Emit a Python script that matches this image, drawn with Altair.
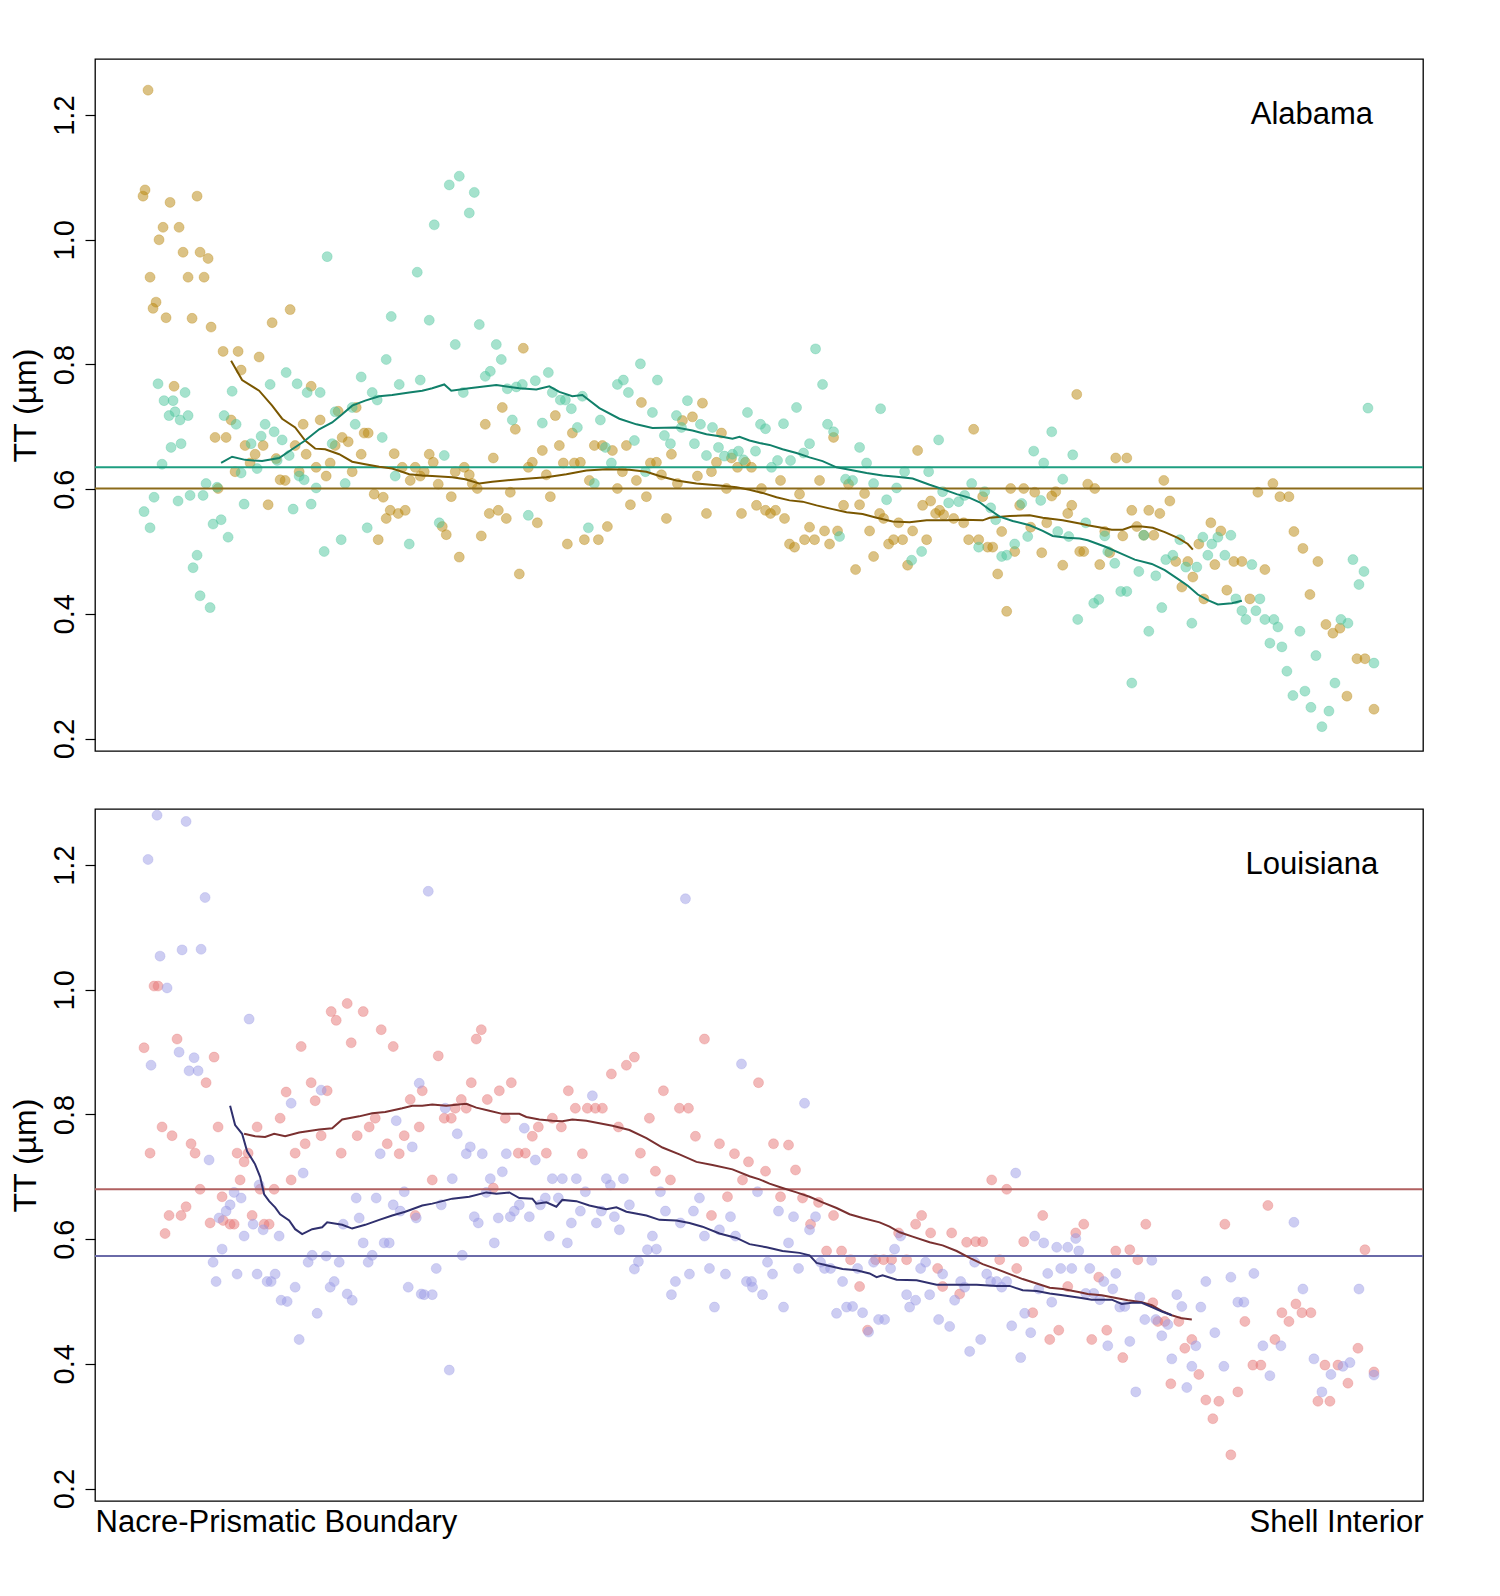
import altair as alt
import pandas as pd

# ---------------- data (position along transect, TT in µm) ----------------
AL_TAN = [(56,1.24),(53,1.08),(51,1.07),(78,1.06),(105,1.07),(71,1.02),(87,1.02),(67,1.00),(91,0.98),(108,0.98),
(116,0.97),(58,0.94),(96,0.94),(112,0.94),(64,0.90),(61,0.89),(74,0.875),(100,0.874),(119,0.86),(180,0.867),
(198,0.888),(131,0.821),(146,0.821),(167,0.812),(149,0.791),(82,0.765),(219,0.765),(139,0.711),(211,0.704),(228,0.711),
(123,0.683),(134,0.683),(153,0.670),(171,0.670),(203,0.670),(246,0.725),(264,0.731),(243,0.670),(250,0.683),(256,0.676),
(272,0.690),(276,0.690),(269,0.656),(302,0.657),(163,0.656),(158,0.642),(184,0.649),(214,0.656),(238,0.642),(260,0.628),
(310,0.635),(323,0.635),(143,0.628),(207,0.628),(224,0.635),(234,0.621),(188,0.615),(193,0.614),(318,0.614),(328,0.621),
(126,0.601),(176,0.575),(282,0.592),(291,0.587),(298,0.566),(306,0.561),(313,0.566),(294,0.553),(286,0.519),
(431,0.826),(410,0.731),(393,0.704),(423,0.696),(463,0.718),(549,0.739),(610,0.738),(600,0.716),(590,0.710),(629,0.690),
(480,0.690),(337,0.656),(341,0.643),(401,0.650),(450,0.662),(467,0.670),(502,0.670),(510,0.670),(520,0.662),(534,0.670),
(579,0.656),(440,0.643),(471,0.642),(482,0.642),(488,0.643),(558,0.642),(564,0.643),(624,0.643),(639,0.650),(645,0.635),
(653,0.643),(332,0.628),(363,0.628),(372,0.635),(436,0.635),(377,0.623),(454,0.623),(530,0.628),(619,0.628),(346,0.608),
(380,0.609),(385,0.601),(497,0.614),(544,0.614),(605,0.621),(569,0.623),(585,0.609),(418,0.595),(525,0.601),(634,0.601),
(359,0.588),(458,0.588),(554,0.588),(538,0.575),(397,0.561),(406,0.566),(414,0.553),(445,0.546),(574,0.553),(614,0.561),
(649,0.561),(350,0.540),(354,0.527),(389,0.525),(515,0.540),(492,0.519),(506,0.519),(475,0.512),(367,0.491),(427,0.464),
(984,0.752),(881,0.696),(825,0.662),(741,0.683),(659,0.635),(688,0.614),(727,0.614),(756,0.608),(669,0.601),(707,0.592),
(772,0.593),(918,0.601),(931,0.601),(942,0.595),(963,0.596),(959,0.589),(890,0.588),(664,0.574),(751,0.574),(767,0.575),
(830,0.574),(838,0.581),(979,0.574),(927,0.574),(673,0.566),(678,0.561),(683,0.566),(692,0.553),(787,0.561),(791,0.553),
(843,0.561),(847,0.566),(851,0.559),(861,0.553),(871,0.546),(975,0.561),(806,0.546),(954,0.546),(938,0.539),(717,0.539),
(732,0.533),(745,0.533),(777,0.533),(820,0.533),(909,0.532),(697,0.512),(702,0.507),(712,0.519),(722,0.519),(737,0.512),
(796,0.512),(801,0.519),(810,0.519),(834,0.519),(876,0.519),(886,0.519),(895,0.507),(900,0.507),(922,0.500),(949,0.498),
(781,0.492),(815,0.478),(763,0.471),(970,0.478),(905,0.464),(914,0.404),(987,0.500),
(1023,0.650),(1034,0.650),(1071,0.614),(995,0.608),(1002,0.601),(1165,0.595),(1180,0.609),(1187,0.588),(1196,0.588),(1077,0.581),
(1039,0.566),(1056,0.566),(1067,0.561),(1118,0.546),(1128,0.533),(1012,0.532),(1030,0.525),(1044,0.540),(1061,0.526),(1201,0.532),
(1106,0.512),(1210,0.505),(991,0.500),(1017,0.498),(1083,0.484),(1095,0.484),(1122,0.479),(1141,0.484),(1149,0.484),(1225,0.484),
(1007,0.479),(1172,0.471),(1100,0.459),(1089,0.443),(1134,0.438),(1217,0.431),(1157,0.424),(1111,0.424),(1233,0.383),(1240,0.369),
(1247,0.377),(1264,0.328),(1272,0.328),(1254,0.268),(1281,0.247),(1051,0.526)]

AL_GREEN = [(235,0.973),(325,0.948),(299,0.877),(294,0.808),(194,0.787),(66,0.769),(178,0.768),(205,0.769),(269,0.780),(93,0.755),
(140,0.757),(215,0.755),(228,0.755),(307,0.768),(328,0.775),(280,0.755),(285,0.743),(72,0.742),(81,0.742),(83,0.724),
(77,0.718),(88,0.711),(96,0.718),(132,0.718),(144,0.704),(173,0.704),(260,0.731),(243,0.724),(263,0.704),(182,0.692),
(169,0.685),(190,0.679),(290,0.683),(79,0.667),(89,0.673),(159,0.673),(240,0.673),(70,0.640),(197,0.654),(185,0.646),
(165,0.633),(149,0.626),(303,0.621),(207,0.621),(212,0.615),(114,0.609),(125,0.603),(224,0.602),(253,0.609),(62,0.587),
(86,0.581),(98,0.590),(111,0.590),(152,0.576),(201,0.568),(219,0.576),(52,0.564),(58,0.538),(121,0.544),(129,0.551),
(136,0.523),(275,0.538),(249,0.519),(317,0.512),(232,0.500),(105,0.494),(101,0.474),(108,0.429),(118,0.410),
(357,1.088),(367,1.102),(382,1.076),(377,1.043),(342,1.024),(337,0.871),(387,0.864),(363,0.832),(404,0.832),(409,0.808),
(393,0.781),(398,0.789),(371,0.755),(415,0.761),(424,0.764),(430,0.768),(443,0.774),(456,0.787),(460,0.755),(468,0.743),
(473,0.743),(479,0.729),(490,0.749),(420,0.711),(450,0.706),(485,0.699),(508,0.711),(525,0.768),(531,0.775),(536,0.755),
(548,0.801),(565,0.775),(560,0.723),(542,0.678),(513,0.667),(352,0.654),(519,0.642),(553,0.628),(502,0.609),(595,0.742),
(584,0.718),(589,0.699),(608,0.704),(620,0.699),(572,0.686),(578,0.673),(602,0.673),(626,0.667),(614,0.654),(632,0.653),
(640,0.656),(646,0.661),(651,0.647),(655,0.723),(347,0.546),(436,0.558),(496,0.538),
(723,0.825),(730,0.768),(704,0.731),(788,0.729),(668,0.704),(673,0.697),(691,0.705),(735,0.704),(741,0.692),(717,0.673),
(711,0.658),(663,0.661),(685,0.646),(698,0.646),(679,0.635),(767,0.667),(774,0.642),(846,0.679),(959,0.692),(941,0.661),
(951,0.642),(980,0.655),(812,0.628),(836,0.628),(753,0.616),(760,0.614),(781,0.609),(804,0.602),(879,0.609),(970,0.616),
(850,0.596),(794,0.583),(856,0.578),(866,0.580),(872,0.590),(892,0.596),(929,0.577),(948,0.582),(898,0.570),(903,0.551),
(965,0.532),(976,0.524),(935,0.524),(747,0.524),(886,0.507),(922,0.512),(829,0.500),(819,0.486),(909,0.492),(914,0.494),
(985,0.391),
(1275,0.730),(993,0.546),(1012,0.525),(1015,0.500),(1022,0.481),(1046,0.468),(1063,0.461),(1051,0.526),(1087,0.519),(1110,0.523),
(1119,0.512),(1125,0.523),(1138,0.526),(1073,0.487),(1080,0.494),(1093,0.475),(1104,0.475),(1115,0.494),(1132,0.494),(1159,0.479),
(1001,0.417),(1006,0.423),(1028,0.436),(1034,0.436),(1069,0.410),(1056,0.372),(1099,0.385),(1039,0.289),(1143,0.424),(1167,0.424),
(1149,0.405),(1153,0.391),(1163,0.405),(1172,0.391),(1181,0.391),(1185,0.379),(1177,0.353),(1189,0.347),(1194,0.308),(1207,0.372),
(1223,0.333),(1248,0.391),(1255,0.385),(1200,0.269),(1212,0.276),(1218,0.250),(1229,0.219),(1236,0.244),(1242,0.289),(1260,0.487),
(1271,0.468),(1266,0.447),(1281,0.321)]

AL_TAN_RUN = [(139,0.806),(150,0.775),(167,0.758),(180,0.734),(190,0.713),(203,0.699),(213,0.678),(223,0.665),(233,0.664),(247,0.656),
(260,0.644),(273,0.640),(287,0.636),(300,0.633),(317,0.624),(330,0.622),(340,0.621),(360,0.619),(373,0.616),(387,0.609),
(400,0.612),(427,0.616),(454,0.619),(474,0.624),(494,0.630),(514,0.632),(537,0.631),(554,0.628),(567,0.621),(584,0.614),
(604,0.609),(627,0.606),(644,0.603),(657,0.599),(670,0.594),(684,0.587),(697,0.582),(710,0.580),(724,0.574),(740,0.568),
(754,0.563),(770,0.560),(784,0.554),(800,0.548),(817,0.547),(834,0.550),(854,0.550),(870,0.551),(890,0.550),(897,0.554),
(917,0.557),(937,0.558),(950,0.554),(970,0.550),(987,0.545),(995,0.542),(1009,0.538),(1019,0.535),(1030,0.535),(1039,0.540),
(1049,0.540),(1060,0.538),(1072,0.531),(1085,0.522),(1095,0.512),(1100,0.503)]

AL_GREEN_RUN = [(129,0.642),(140,0.652),(153,0.647),(170,0.645),(187,0.650),(200,0.664),(213,0.678),(227,0.696),(240,0.707),(250,0.720),
(260,0.734),(273,0.742),(287,0.749),(300,0.751),(317,0.755),(330,0.758),(340,0.762),(352,0.768),(359,0.758),(377,0.762),
(404,0.767),(427,0.762),(444,0.760),(457,0.765),(467,0.756),(480,0.749),(490,0.751),(507,0.730),(527,0.713),(544,0.704),
(560,0.698),(584,0.699),(600,0.694),(614,0.688),(627,0.685),(640,0.681),(647,0.684),(657,0.678),(667,0.674),(677,0.671),
(690,0.664),(704,0.658),(717,0.651),(730,0.645),(744,0.635),(757,0.631),(774,0.626),(790,0.622),(804,0.620),(820,0.617),
(837,0.607),(850,0.600),(864,0.592),(877,0.586),(887,0.579),(897,0.567),(907,0.556),(920,0.549),(937,0.542),(950,0.533),
(960,0.525),(974,0.522),(987,0.521),(995,0.518),(1012,0.508),(1025,0.499),(1042,0.487),(1059,0.480),(1072,0.470),(1085,0.456),
(1095,0.445),(1105,0.431),(1115,0.422),(1125,0.415),(1139,0.417),(1149,0.421)]

LA_RED = [(62,1.006),(66,1.006),(52,0.907),(85,0.921),(122,0.892),(114,0.851),(58,0.738),(70,0.780),(80,0.766),(99,0.753),
(103,0.738),(126,0.780),(108,0.680),(77,0.638),(89,0.638),(94,0.652),(73,0.609),(118,0.626),(130,0.668),(131,0.630),
(138,0.624),(142,0.624),(145,0.738),(152,0.724),(156,0.738),(165,0.780),(148,0.695),(160,0.638),(168,0.680),(182,0.680),
(172,0.624),(177,0.624),(188,0.794),(194,0.836),(199,0.695),(203,0.738),(209,0.909),(213,0.753),(219,0.851),(223,0.822),
(229,0.766),(235,0.838),(239,0.965),(244,0.951),(255,0.978),(271,0.965),(259,0.915),(249,0.738),(265,0.766),(277,0.780),
(283,0.794),(289,0.936),(301,0.909),(295,0.753),(307,0.737),(312,0.766),(318,0.824),(327,0.780),(330,0.838),(323,0.638),
(389,0.936),(384,0.921),(346,0.894),(542,0.892),(534,0.879),(519,0.865),(612,0.921),(379,0.851),(419,0.851),(407,0.838),
(476,0.838),(571,0.838),(369,0.824),(395,0.824),(363,0.810),(374,0.810),(483,0.810),(495,0.810),(503,0.810),(510,0.810),
(587,0.810),(596,0.810),(352,0.794),(359,0.794),(413,0.794),(460,0.794),(557,0.794),(446,0.780),(469,0.780),(526,0.780),
(440,0.765),(603,0.765),(627,0.753),(426,0.738),(433,0.738),(454,0.738),(490,0.737),(548,0.738),(642,0.737),(656,0.724),
(563,0.709),(340,0.695),(578,0.695),(650,0.695),(401,0.682),(635,0.668),(619,0.638),
(666,0.851),(681,0.753),(696,0.751),(673,0.709),(703,0.711),(688,0.668),(710,0.666),(726,0.659),(718,0.624),(741,0.638),
(734,0.581),(749,0.581),(758,0.567),(767,0.524),(775,0.454),(783,0.567),(791,0.567),(799,0.567),(806,0.610),(814,0.567),
(823,0.624),(829,0.638),(838,0.610),(845,0.553),(850,0.524),(859,0.610),(867,0.512),(874,0.595),(883,0.596),(890,0.596),
(899,0.695),(907,0.567),(914,0.680),(924,0.553),(931,0.596),(940,0.482),(950,0.638),(957,0.439),(966,0.454),(975,0.524),
(983,0.610),
(991,0.624),(1053,0.624),(1132,0.624),(1175,0.654),(1272,0.583),(1023,0.581),(1037,0.583),(1045,0.567),(1006,0.539),(1060,0.498),
(1065,0.468),(1072,0.468),(1086,0.468),(1099,0.439),(1092,0.425),(1106,0.383),(1078,0.368),(1014,0.454),(999,0.439),(1030,0.410),
(1113,0.342),(1126,0.340),(1120,0.312),(1138,0.254),(1145,0.355),(1152,0.468),(1160,0.398),(1168,0.398),(1182,0.439),(1189,0.482),
(1196,0.468),(1203,0.496),(1209,0.482),(1218,0.482),(1232,0.398),(1245,0.398),(1255,0.369),(1225,0.340),(1237,0.340),(1265,0.425),
(1281,0.387)]

LA_BLUE = [(65,1.280),(94,1.270),(56,1.209),(113,1.148),(68,1.054),(90,1.064),(109,1.065),(75,1.003),(157,0.953),(59,0.879),
(87,0.900),(102,0.891),(97,0.870),(106,0.870),(199,0.818),(229,0.839),(327,0.850),(117,0.727),(211,0.706),(288,0.737),
(304,0.790),(320,0.748),(142,0.675),(149,0.666),(167,0.687),(138,0.655),(134,0.645),(127,0.634),(161,0.624),(171,0.615),
(152,0.605),(187,0.605),(130,0.584),(121,0.563),(124,0.532),(145,0.544),(165,0.544),(175,0.532),(179,0.532),(183,0.544),
(189,0.502),(195,0.500),(203,0.523),(207,0.439),(225,0.481),(216,0.563),(220,0.574),(234,0.573),(247,0.563),(238,0.523),
(242,0.532),(255,0.512),(260,0.502),(264,0.666),(284,0.666),(267,0.634),(251,0.624),(271,0.594),(280,0.574),(276,0.563),
(292,0.594),(297,0.594),(301,0.655),(308,0.645),(312,0.676),(324,0.634),(316,0.523),(329,0.512),
(336,1.158),(593,1.146),(649,0.881),(500,0.830),(353,0.810),(365,0.769),(378,0.748),(374,0.737),(390,0.737),(414,0.737),
(432,0.778),(443,0.727),(410,0.708),(360,0.697),(398,0.697),(460,0.697),(470,0.697),(484,0.697),(514,0.697),(518,0.687),
(531,0.697),(493,0.676),(568,0.676),(394,0.675),(453,0.666),(466,0.666),(607,0.666),(349,0.655),(427,0.655),(448,0.655),
(537,0.655),(382,0.636),(386,0.626),(406,0.634),(418,0.636),(422,0.645),(437,0.636),(488,0.645),(479,0.626),(504,0.626),
(509,0.645),(522,0.636),(527,0.615),(573,0.645),(588,0.626),(601,0.645),(638,0.636),(612,0.605),(627,0.615),(643,0.605),
(457,0.605),(475,0.594),(402,0.594),(370,0.574),(560,0.605),(555,0.583),(564,0.584),(546,0.564),(542,0.552),(344,0.553),
(332,0.511),(340,0.511),(583,0.532),(579,0.511),(597,0.544),(617,0.553),(633,0.544),(622,0.491),(654,0.532),(357,0.390),
(665,0.676),(712,0.818),(923,0.706),(686,0.645),(701,0.636),(723,0.636),(717,0.615),(696,0.594),(675,0.563),(680,0.544),
(659,0.532),(660,0.523),(670,0.511),(691,0.491),(706,0.553),(728,0.563),(732,0.553),(738,0.553),(750,0.532),(744,0.481),
(754,0.491),(760,0.492),(770,0.482),(776,0.451),(765,0.553),(781,0.563),(798,0.553),(802,0.584),(808,0.605),(786,0.471),
(792,0.471),(814,0.511),(817,0.491),(823,0.502),(828,0.553),(833,0.563),(837,0.511),(846,0.471),(850,0.544),(857,0.460),
(862,0.502),(868,0.532),(872,0.523),(877,0.420),(882,0.563),(888,0.439),(894,0.544),(898,0.532),(904,0.532),(909,0.523),
(914,0.532),(919,0.461),(928,0.410),(932,0.481),(938,0.450),(942,0.605),(946,0.520),(951,0.594),(955,0.545),(959,0.499),
(964,0.587),(968,0.553),(975,0.587),(979,0.553),(983,0.601),(986,0.581),
(997,0.553),(1011,0.532),(1020,0.520),(1023,0.545),(993,0.513),(1001,0.513),(1007,0.503),(1027,0.491),(1032,0.492),(1047,0.507),
(1059,0.566),(1052,0.471),(1063,0.471),(1075,0.463),(1084,0.511),(1089,0.492),(1069,0.445),(1015,0.429),(1037,0.436),(1043,0.355),
(1079,0.408),(1099,0.396),(1094,0.362),(1103,0.429),(1108,0.491),(1113,0.532),(1122,0.450),(1131,0.396),(1138,0.539),(1145,0.499),
(1151,0.499),(1161,0.545),(1170,0.429),(1177,0.381),(1188,0.429),(1201,0.627),(1210,0.520),(1221,0.408),(1229,0.355),(1238,0.383),
(1250,0.396),(1257,0.402),(1266,0.520),(1281,0.382)]

LA_RED_RUN = [(152,0.769),(163,0.765),(173,0.764),(182,0.769),(193,0.765),(207,0.771),(227,0.776),(240,0.778),(250,0.792),(267,0.797),
(280,0.802),(293,0.804),(310,0.810),(320,0.814),(330,0.814),(340,0.816),(354,0.814),(374,0.817),(384,0.811),(397,0.806),
(410,0.801),(427,0.801),(434,0.796),(447,0.792),(460,0.790),(470,0.789),(480,0.792),(494,0.790),(507,0.786),(520,0.782),
(537,0.775),(554,0.762),(570,0.747),(587,0.736),(604,0.724),(620,0.719),(640,0.712),(657,0.701),(667,0.696),(677,0.689),
(690,0.682),(704,0.675),(717,0.668),(730,0.659),(744,0.650),(757,0.640),(770,0.634),(787,0.627),(797,0.620),(807,0.611),
(820,0.604),(837,0.595),(850,0.590),(864,0.581),(877,0.570),(890,0.560),(904,0.552),(917,0.544),(930,0.536),(944,0.529),
(957,0.522),(970,0.520),(987,0.515),(995,0.512),(1009,0.510),(1022,0.506),(1035,0.502),(1049,0.499),(1059,0.494),(1069,0.485),
(1079,0.478),(1089,0.473),(1099,0.471)]

LA_BLUE_RUN = [(138,0.814),(143,0.783),(150,0.769),(155,0.741),(163,0.720),(168,0.700),(172,0.672),(177,0.661),(183,0.651),(188,0.640),
(197,0.630),(203,0.616),(210,0.608),(220,0.616),(230,0.619),(235,0.627),(250,0.623),(260,0.617),(273,0.623),(287,0.631),
(300,0.638),(313,0.644),(330,0.654),(340,0.657),(360,0.665),(377,0.668),(394,0.675),(404,0.673),(417,0.675),(427,0.666),
(440,0.665),(444,0.657),(454,0.659),(464,0.652),(470,0.663),(484,0.661),(497,0.654),(514,0.648),(524,0.651),(534,0.644),
(554,0.638),(567,0.631),(584,0.630),(597,0.626),(610,0.620),(627,0.609),(644,0.602),(657,0.592),(674,0.587),(690,0.581),
(707,0.578),(717,0.574),(724,0.562),(737,0.557),(750,0.552),(764,0.550),(777,0.545),(784,0.539),(790,0.542),(804,0.535),
(824,0.534),(844,0.527),(864,0.527),(884,0.527),(904,0.525),(917,0.525),(930,0.518),(944,0.517),(957,0.513),(970,0.510),
(987,0.506),(999,0.503),(1009,0.503),(1019,0.503),(1029,0.496),(1039,0.498),(1049,0.498),(1059,0.491),(1069,0.484),(1079,0.478)]

AL_MEANS = {"green": 0.635, "tan": 0.601}
LA_MEANS = {"red": 0.680, "blue": 0.573}
PANEL_LABELS = ["Alabama", "Louisiana"]
LABEL_POS = (1219, 1.2)
END_LABELS = ["Nacre-Prismatic Boundary", "Shell Interior"]
Y_TICKS = [0.2, 0.4, 0.6, 0.8, 1.0, 1.2]

# ---------------- styling ----------------
FONT = "Liberation Sans"
W, H = 1328, 692
XDOM = [3, 1330]
YDOM = [0.18, 1.29]

def df(pairs):
    return pd.DataFrame(pairs, columns=["pos", "tt"])

xs = alt.Scale(domain=XDOM, nice=False, zero=False)
ys = alt.Scale(domain=YDOM, nice=False, zero=False)

def yaxis():
    return alt.Axis(values=Y_TICKS, format=".1f", labelAngle=270, labelAlign="center",
                    labelBaseline="alphabetic", labelPadding=12, labelFontSize=29,
                    labelColor="black", labelFont=FONT, tickSize=10, tickColor="black",
                    tickWidth=1.2, domain=False, grid=False, title="TT (µm)",
                    titleFontSize=32, titleFont=FONT, titleFontWeight="normal",
                    titleColor="black", titleAngle=270, titleAlign="center",
                    titleBaseline="alphabetic", titleX=-60, titleY=H / 2)

def xaxis_bottom():
    return alt.Axis(values=[XDOM[0], XDOM[1]],
                    labelExpr=f"datum.value < 500 ? '{END_LABELS[0]}' : '{END_LABELS[1]}'",
                    labelFlush=True, ticks=False, domain=False, grid=False,
                    labelFontSize=31, labelFont=FONT, labelColor="black",
                    labelPadding=6, labelOverlap=False, labelLimit=0, title=None)

def points(pairs, color, xaxis):
    return alt.Chart(df(pairs)).mark_circle(
        size=100, fill=color, stroke=color, opacity=1, fillOpacity=0.5,
        strokeOpacity=0.3, strokeWidth=1).encode(
        x=alt.X("pos:Q", scale=xs, axis=xaxis),
        y=alt.Y("tt:Q", scale=ys, axis=yaxis()))

def runline(pairs, color):
    return alt.Chart(df(pairs)).mark_line(color=color, strokeWidth=2).encode(
        x=alt.X("pos:Q", scale=xs), y=alt.Y("tt:Q", scale=ys))

def meanline(value, color):
    return alt.Chart(pd.DataFrame({"tt": [value]})).mark_rule(
        color=color, strokeWidth=2).encode(y=alt.Y("tt:Q", scale=ys))

def label(text):
    d = pd.DataFrame({"pos": [LABEL_POS[0]], "tt": [LABEL_POS[1]], "t": [text]})
    return alt.Chart(d).mark_text(fontSize=31, font=FONT, color="black",
                                  align="center", baseline="middle").encode(
        x=alt.X("pos:Q", scale=xs), y=alt.Y("tt:Q", scale=ys), text="t:N")

top = alt.layer(
    points(AL_TAN, "#B8860B", None),
    points(AL_GREEN, "#4BC59B", None),
    meanline(AL_MEANS["green"], "#1E9E80"),
    meanline(AL_MEANS["tan"], "#8B6B1A"),
    runline(AL_TAN_RUN, "#7A5700"),
    runline(AL_GREEN_RUN, "#11806A"),
    label(PANEL_LABELS[0]),
).properties(width=W, height=H)

bottom = alt.layer(
    points(LA_RED, "#E57373", xaxis_bottom()),
    points(LA_BLUE, "#9B9BE5", xaxis_bottom()),
    meanline(LA_MEANS["red"], "#B06060"),
    meanline(LA_MEANS["blue"], "#6A6AA8"),
    runline(LA_RED_RUN, "#7A3030"),
    runline(LA_BLUE_RUN, "#30306E"),
    label(PANEL_LABELS[1]),
).properties(width=W, height=H)

chart = alt.vconcat(top, bottom, spacing=58, bounds="flush").properties(
    padding={"left": 0, "top": 50, "right": 10, "bottom": 10}
).configure(font=FONT, background="white").configure_view(
    stroke="black", strokeWidth=1.3, strokeOpacity=1)

chart.save("out.html", embed_options={"renderer": "svg", "actions": False})
